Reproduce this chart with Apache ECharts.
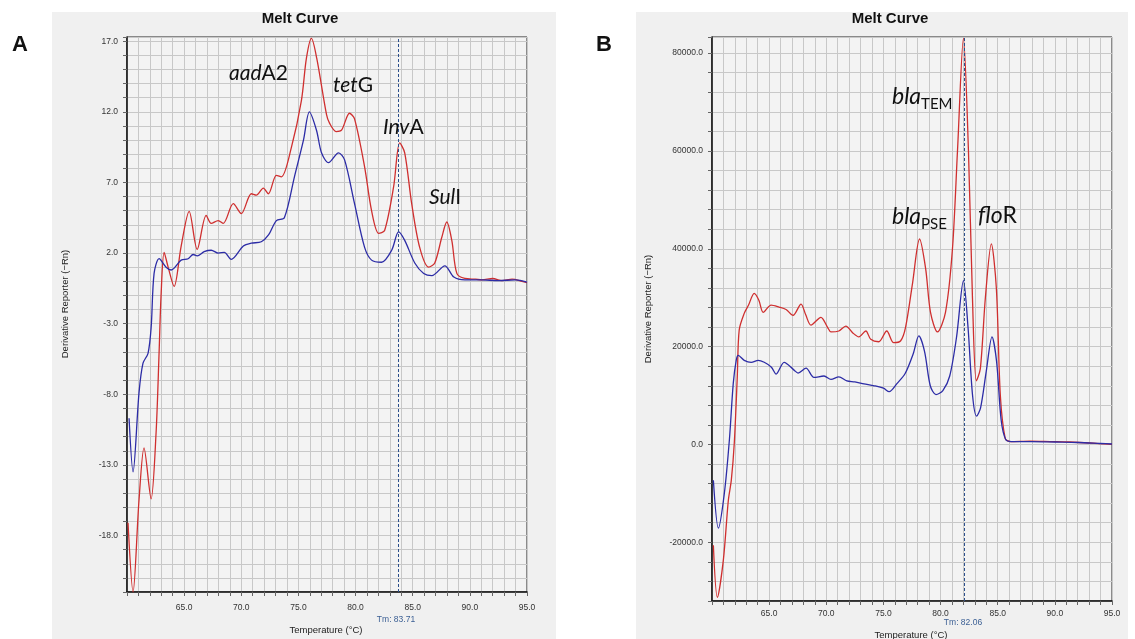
<!DOCTYPE html>
<html><head><meta charset="utf-8">
<script src="https://cdn.jsdelivr.net/npm/echarts@6/dist/echarts.min.js"></script>
<style>
html,body{margin:0;padding:0;background:#fff;}
#wrap{position:relative;width:1135px;height:639px;overflow:hidden;}
.panel{position:absolute;background:#f0f0f0;}
#chart{position:absolute;left:0;top:0;width:1135px;height:639px;}
</style></head><body>
<div id="wrap">
<div class="panel" style="left:52px;top:12px;width:504px;height:627px"></div>
<div class="panel" style="left:636px;top:12px;width:492px;height:627px"></div>
<div id="chart"></div></div>
<script>
// ---- Panel A data: [temperature °C, derivative reporter] ----
const redA = [[60.09,-17.1],[60.53,-22.0],[61.05,-15.5],[61.49,-11.8],[62.11,-15.4],[62.54,-10.8],[62.81,-5.0],[62.98,-1.0],[63.25,2.05],[63.6,1.0],[64.12,-0.36],[64.74,2.5],[65.44,4.95],[66.14,2.26],[66.93,4.67],[67.37,4.1],[67.98,4.3],[68.42,4.1],[69.3,5.5],[70.0,4.8],[70.88,6.2],[71.32,6.1],[71.93,6.6],[72.37,6.2],[73.07,7.5],[73.51,7.4],[74.39,9.5],[75.26,12.8],[75.7,15.8],[76.14,17.2],[76.6,15.8],[77.46,11.8],[77.72,11.2],[78.3,10.6],[78.77,10.7],[79.47,11.9],[79.91,11.5],[80.79,8.1],[81.4,5.0],[82.02,3.4],[82.54,3.6],[83.33,6.7],[83.86,9.8],[84.3,9.1],[84.91,5.5],[85.61,2.4],[86.4,1.0],[86.93,1.3],[87.54,3.1],[87.98,4.2],[88.42,2.9],[88.86,0.56],[89.56,0.2],[90.5,0.15],[91.05,0.1],[92.0,0.2],[92.81,0.05],[93.7,0.15],[94.56,0.0],[95.0,-0.1]];
const blueA = [[60.18,-9.7],[60.53,-13.5],[61.05,-7.9],[61.4,-5.8],[61.84,-5.1],[62.11,-3.3],[62.37,0.56],[62.81,1.6],[63.42,1.0],[63.86,0.8],[64.74,1.5],[65.35,1.6],[65.79,1.9],[66.14,1.8],[66.75,2.1],[67.37,2.2],[67.98,2.0],[68.51,2.05],[69.12,1.55],[70.18,2.5],[70.88,2.7],[71.75,2.8],[72.4,3.3],[73.07,4.3],[73.77,4.5],[74.65,7.4],[75.44,10.0],[75.96,12.0],[76.58,10.7],[77.02,9.1],[77.63,8.4],[78.51,9.1],[79.04,8.6],[79.91,5.5],[80.79,2.4],[81.4,1.5],[82.28,1.35],[83.16,2.2],[83.77,3.5],[84.3,2.9],[85.18,1.3],[85.96,0.56],[86.67,0.4],[87.81,1.1],[88.6,0.3],[89.56,0.1],[91.0,0.1],[92.5,0.05],[94.0,0.1],[95.0,-0.05]];
// ---- Panel B data ----
const redB = [[60.12,-20600],[60.47,-31250],[60.99,-23700],[61.43,-11400],[61.69,-7300],[61.95,300],[62.21,13700],[62.38,23400],[62.82,26800],[63.2,28500],[63.69,30900],[64.1,29500],[64.48,27000],[65.17,28500],[65.87,28100],[66.48,27600],[67.09,26400],[67.79,28700],[68.2,26500],[68.66,24400],[69.53,26000],[70.1,24000],[70.41,23000],[71.1,23200],[71.71,24200],[72.32,22800],[72.85,22000],[73.46,23200],[73.89,21500],[74.59,21000],[75.29,23200],[75.9,20800],[76.51,21200],[76.94,24000],[77.55,33000],[78.16,42000],[78.69,36000],[79.12,27000],[79.73,23000],[80.43,27000],[81.04,40000],[81.48,60000],[82.0,83000],[82.44,60000],[82.79,30000],[83.13,13000],[83.48,15500],[83.92,30000],[84.44,41000],[84.88,32000],[85.23,10000],[85.66,1200],[86.1,600],[87.84,700],[89.59,600],[91.33,500],[93.08,300],[95.0,0]];
const blueB = [[60.12,-7300],[60.56,-17100],[61.08,-10000],[61.52,900],[61.86,12500],[62.12,17200],[62.3,18200],[62.82,17200],[63.43,16800],[64.04,17200],[64.57,16800],[65.2,15800],[65.61,14400],[66.31,16800],[67.18,15200],[67.53,14600],[68.23,15600],[68.92,13700],[69.8,14000],[70.41,13300],[71.1,13800],[71.8,13000],[72.5,12800],[73.3,12400],[74.2,12000],[75.0,11500],[75.5,10800],[76.2,12500],[76.9,14500],[77.6,18500],[78.1,22200],[78.6,19000],[79.1,12000],[79.6,10200],[80.2,11000],[80.8,14000],[81.4,22000],[82.0,33500],[82.4,24000],[82.8,10000],[83.15,5800],[83.5,7500],[84.0,15000],[84.5,22000],[84.9,17000],[85.3,5000],[85.7,1000],[86.2,600],[88.0,600],[90.0,500],[92.0,400],[94.0,200],[95.0,100]];
// ---- tick labels & Tm ----
const xTicks = [65,70,75,80,85,90,95];
const yTicksA = [-18,-13,-8,-3,2,7,12,17];
const yTicksB = [-20000,0,20000,40000,60000,80000];
const tmA = 83.71, tmB = 82.06;

const has = (arr, v) => arr.some(t => Math.abs(t - v) < 1e-6);
const FONT = '"Liberation Sans", Arial, sans-serif';
const RED = '#cf2f2f', BLUE = '#2c2ca6';

function xAxisOpt(gi, margin) {
  return {
    type: 'value', gridIndex: gi, min: 60, max: 95, interval: 1,
    axisLine: {show: true, onZero: false, lineStyle: {color: '#111', width: 1.5}},
    axisTick: {show: true, length: 4, lineStyle: {color: '#666'}},
    axisLabel: {showMaxLabel: true, showMinLabel: true, margin: margin, fontSize: 8.5, color: '#333', fontFamily: FONT,
      formatter: v => has(xTicks, v) ? v.toFixed(1) : ''},
    splitLine: {show: true, lineStyle: {color: '#c8c8c8', width: 1}}
  };
}
function yAxisOpt(gi, min, max, interval, ticks) {
  return {
    type: 'value', gridIndex: gi, min: min, max: max, interval: interval,
    axisLine: {show: true, onZero: false, lineStyle: {color: '#111', width: 1.5}},
    axisTick: {show: true, length: 4, lineStyle: {color: '#666'}},
    axisLabel: {showMaxLabel: true, showMinLabel: true, margin: 9, fontSize: 8.5, color: '#333', fontFamily: FONT,
      formatter: v => has(ticks, v) ? v.toFixed(1) : ''},
    splitLine: {show: true, lineStyle: {color: '#c8c8c8', width: 1}}
  };
}
function lineSeries(xi, data, color, tm) {
  const s = {
    type: 'line', xAxisIndex: xi, yAxisIndex: xi, data: data, symbol: 'none', showSymbol: false,
    smooth: 0.3, lineStyle: {color: color, width: 1.3}, itemStyle: {color: color}, z: 3, animation: false
  };
  if (tm !== undefined) {
    s.markLine = {silent: true, symbol: ['none', 'none'], animation: false,
      lineStyle: {type: [3, 2], color: '#2b4f8c', width: 1}, label: {show: false},
      data: [{xAxis: tm}]};
  }
  return s;
}
function txt(x, y, text, opts) {
  return Object.assign({type: 'text', x: x, y: y, z: 100, silent: true,
    style: Object.assign({text: text, fontFamily: FONT, fill: '#111', align: 'center', verticalAlign: 'middle'}, opts || {})});
}
function ann(x, y, text, fs) {
  const fam = 'Lato, "Open Sans", sans-serif';
  return {type: 'text', x: x, y: y, z: 100, silent: true, style: {
    text: text, align: 'left', verticalAlign: 'middle', fill: '#111',
    rich: {
      i: {fontFamily: fam, fontStyle: 'italic', fontSize: fs, lineHeight: 30, fill: '#111'},
      n: {fontFamily: fam, fontSize: fs, lineHeight: 30, fill: '#111'},
      s: {fontFamily: fam, fontSize: Math.round(fs * 0.66), lineHeight: 14, verticalAlign: 'bottom', fill: '#111'}
    }}};
}

const chart = echarts.init(document.getElementById('chart'), null, {renderer: 'canvas'});
chart.setOption({
  animation: false,
  backgroundColor: 'transparent',
  grid: [
    {left: 127, top: 37, width: 400, height: 555, show: true, backgroundColor: '#f3f3f3', borderColor: '#222', borderWidth: 1},
    {left: 712, top: 37, width: 400, height: 564, show: true, backgroundColor: '#f3f3f3', borderColor: '#222', borderWidth: 1}
  ],
  xAxis: [xAxisOpt(0, 11), xAxisOpt(1, 8)],
  yAxis: [yAxisOpt(0, -22, 17.3, 1, yTicksA), yAxisOpt(1, -32000, 83300, 4000, yTicksB)],
  series: [
    lineSeries(0, redA, RED, tmA),
    lineSeries(0, blueA, BLUE),
    lineSeries(1, redB, RED, tmB),
    lineSeries(1, blueB, BLUE)
  ],
  graphic: [
    txt(20, 45, 'A', {fontSize: 22, fontWeight: 'bold'}),
    txt(604, 45, 'B', {fontSize: 22, fontWeight: 'bold'}),
    txt(300, 19, 'Melt Curve', {fontSize: 15, fontWeight: 'bold'}),
    txt(890, 19, 'Melt Curve', {fontSize: 15, fontWeight: 'bold'}),
    txt(326, 630, 'Temperature (°C)', {fontSize: 9.5, fill: '#222'}),
    txt(911, 635, 'Temperature (°C)', {fontSize: 9.5, fill: '#222'}),
    txt(396, 620, 'Tm: ' + tmA.toFixed(2), {fontSize: 8.5, fill: '#3b5f94'}),
    txt(963, 623, 'Tm: ' + tmB.toFixed(2), {fontSize: 8.5, fill: '#3b5f94'}),
    Object.assign(txt(65, 304, 'Derivative Reporter (−Rn)', {fontSize: 9.5, fill: '#222'}), {rotation: Math.PI / 2}),
    Object.assign(txt(648, 309, 'Derivative Reporter (−Rn)', {fontSize: 9.5, fill: '#222'}), {rotation: Math.PI / 2}),
    ann(229, 73, '{i|aad}{n|A2}', 21),
    ann(333, 85, '{i|tet}{n|G}', 21),
    ann(383, 127, '{i|Inv}{n|A}', 21),
    ann(429, 197, '{i|Sul}{n|I}', 21),
    ann(892, 97, '{i|bla}{s|TEM}', 23),
    ann(892, 217, '{i|bla}{s|PSE}', 23),
    ann(978, 216, '{i|flo}{n|R}', 23)
  ]
});
</script>
</body></html>
